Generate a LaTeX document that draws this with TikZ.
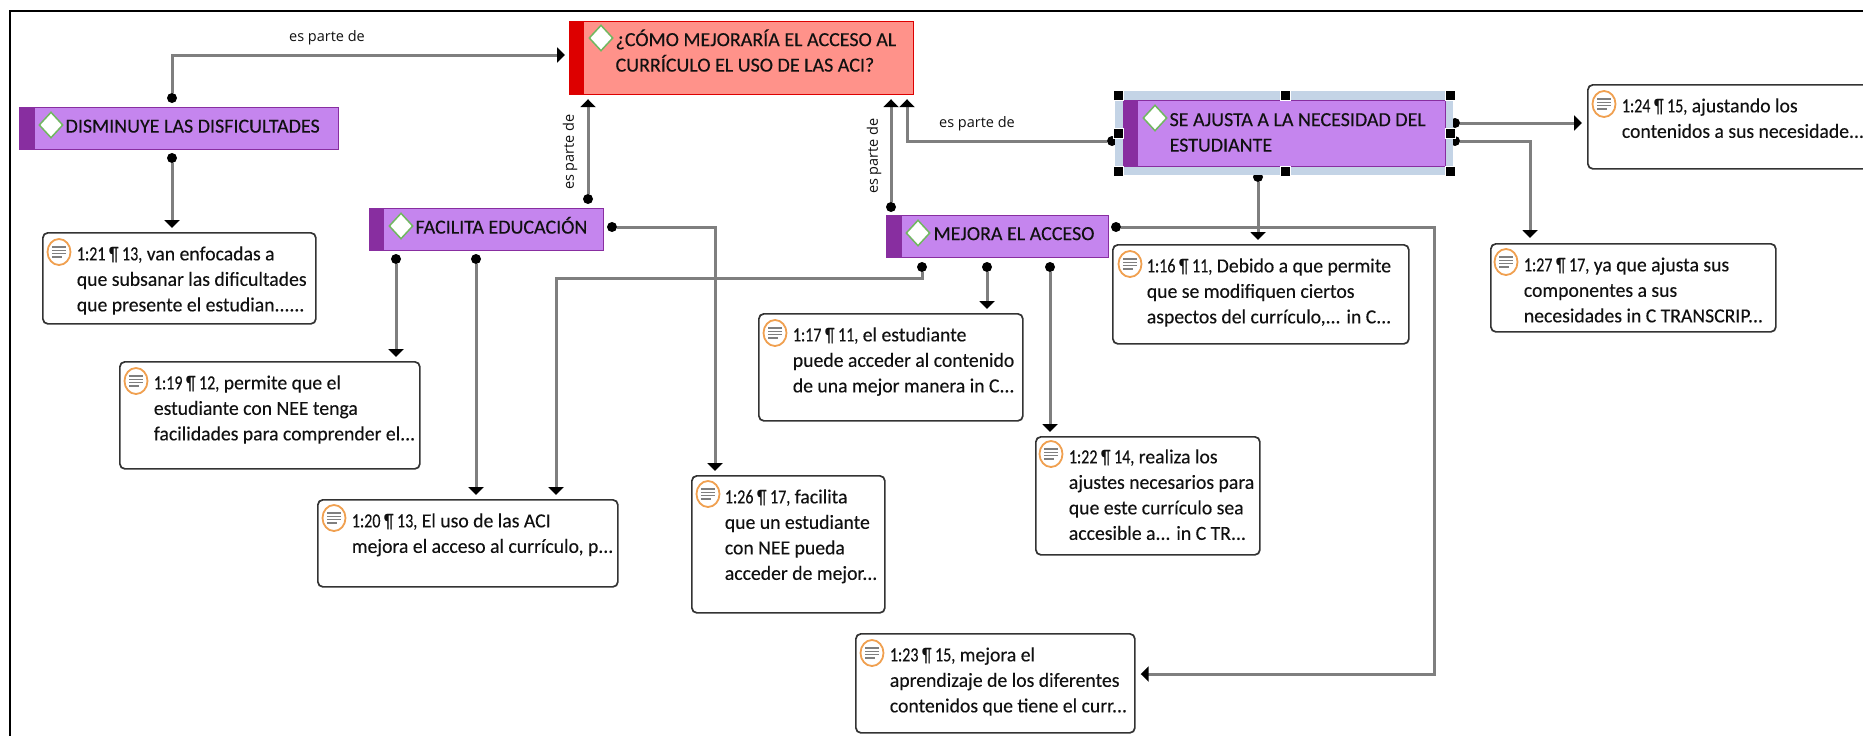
\documentclass[tikz,border=0pt]{standalone}
\usepackage{fontspec}
\usetikzlibrary{arrows.meta,shapes.geometric,calc}
\setmainfont[FakeBold=0.2]{Carlito}
\newfontfamily\qfont[FakeBold=0.2,FakeStretch=0.985]{Carlito}
\newfontfamily\pfxfont[FakeBold=0.2,FakeStretch=0.8]{Carlito}
\newfontfamily\lblfont{Open Sans}
\newcommand\pfx[1]{{\pfxfont #1}}
\definecolor{cfill}{HTML}{C585EE}
\definecolor{cbar}{HTML}{882EA0}
\definecolor{rfill}{HTML}{FF928A}
\definecolor{rbar}{HTML}{DD0000}
\definecolor{linegrey}{HTML}{7F7F7F}
\definecolor{txt}{HTML}{111111}
\definecolor{gemgreen}{HTML}{70B860}
\definecolor{iconorange}{HTML}{F0A050}
\definecolor{selblue}{HTML}{C4D4E6}
\tikzset{
  x=1pt,y=-1pt,
  boxtext/.style={anchor=north west,inner sep=0pt,text=txt,font=\fontsize{20}{26}\selectfont},
  quote/.style={boxtext,draw=black!80,fill=white,line width=1.7pt,rounded corners=5pt,font=\qfont\fontsize{20}{26}\selectfont},
  code/.style={boxtext,draw=cbar,fill=cfill,line width=1.2pt},
  root/.style={boxtext,draw=rbar,fill=rfill,line width=1.2pt},
  gem/.style={diamond,draw=gemgreen,fill=white,line width=1.5pt,inner sep=0pt,minimum width=24pt,minimum height=26pt},
  docicon/.style={ellipse,draw=iconorange,fill=white,line width=1.8pt,inner sep=0pt,minimum width=23pt,minimum height=26pt},
  conn/.style={draw=linegrey,line width=3pt,-{Triangle[length=8pt,width=15pt,color=black]}},
  dot/.style={circle,fill=black,inner sep=0pt,minimum size=10pt},
  lbl/.style={inner sep=0pt,text=txt,font=\lblfont\fontsize{14.5}{16}\selectfont},
  handle/.style={fill=black,draw=white,line width=1pt,minimum size=10pt,inner sep=0pt},
}
% #1 name, #2 style, #3-#6 box, #7 text offset, #8 first-line drop, #9 text
\newcommand\bx[9]{%
  \pgfmathsetmacro\bw{#5-#3}\pgfmathsetmacro\bh{#6-#4}%
  \node[#2] (#1) at (#3,#4) {\parbox[c][\bh pt][t]{\bw pt}{\raggedright\leftskip=#7pt\rightskip=-80pt plus 1fil\parindent=0pt\baselineskip=25.5pt\lineskiplimit=-50pt\rule{0pt}{#8pt}#9}};}
\newcommand\qicon[3]{%
  \node[docicon] (#1) at (#2,#3) {};
  \foreach \dy/\hw in {-5/7,-1.7/7,1.7/7,5/3}{\draw[linegrey,line width=1.3pt] ($(#1)+(-7,\dy)$) -- ($(#1)+(\hw,\dy)$);}
}
\begin{document}
\begin{tikzpicture}
\useasboundingbox (0,0) rectangle (1863,736);
\fill[white] (0,0) rectangle (1863,736);
\draw[black,line width=2pt] (10,736) -- (10,11) -- (1863,11);
% concept nodes
\bx{main}{root}{569}{21}{913}{94}{46}{24.5}{¿CÓMO MEJORARÍA EL ACCESO AL\\CURRÍCULO EL USO DE LAS ACI?}
\fill[rbar] (569,21) rectangle (584,94);
\node[gem] (mainG) at (601,38) {};
\bx{dis}{code}{19}{107}{338}{149}{46}{25}{DISMINUYE LAS DISFICULTADES}
\fill[cbar] (19,107) rectangle (35,149);
\node[gem] (disG) at (51,125) {};
\bx{fac}{code}{369}{208}{603}{250}{46}{25}{FACILITA EDUCACIÓN}
\fill[cbar] (369,208) rectangle (384,250);
\node[gem] (facG) at (401,226) {};
\bx{mej}{code}{886}{215}{1108}{257}{47}{24.5}{MEJORA EL ACCESO}
\fill[cbar] (886,215) rectangle (902,257);
\node[gem] (mejG) at (918,233) {};
% quotation nodes
\bx{q21}{quote}{42}{232}{315}{323}{34}{27.5}{\pfx{1:21 ¶ 13,} van enfocadas a\\que subsanar las dificultades\\que presente el estudian......}
\qicon{q21i}{59}{252}
\bx{q19}{quote}{119}{361}{419}{468}{34}{27.5}{\pfx{1:19 ¶ 12,} permite que el\\estudiante con NEE tenga\\facilidades para comprender el...}
\qicon{q19i}{136}{381}
\bx{q20}{quote}{317}{499}{617}{586}{34}{27.5}{\pfx{1:20 ¶ 13,} El uso de las ACI\\mejora el acceso al currículo, p...}
\qicon{q20i}{334}{518}
\bx{q26}{quote}{691}{475}{884}{612}{33}{27.5}{\pfx{1:26 ¶ 17,} facilita\\que un estudiante\\con NEE pueda\\acceder de mejor...}
\qicon{q26i}{708}{494}
\bx{q17}{quote}{758}{313}{1022}{420}{34}{27.5}{\pfx{1:17 ¶ 11,} el estudiante\\puede acceder al contenido\\de una mejor manera in C...}
\qicon{q17i}{775}{333}
\bx{q22}{quote}{1035}{436}{1259}{554}{33}{26.5}{\pfx{1:22 ¶ 14,} realiza los\\ajustes necesarios para\\que este currículo sea\\accesible a... in C TR...}
\qicon{q22i}{1051}{454}
\bx{q16}{quote}{1112}{244}{1408}{343}{34}{27.5}{\pfx{1:16 ¶ 11,} Debido a que permite\\que se modifiquen ciertos\\aspectos del currículo,... in C...}
\qicon{q16i}{1130}{264}
\bx{q23}{quote}{855}{633}{1134}{732}{34}{27.5}{\pfx{1:23 ¶ 15,} mejora el\\aprendizaje de los diferentes\\contenidos que tiene el curr...}
\qicon{q23i}{872}{653}
\bx{q27}{quote}{1490}{243}{1775}{331}{33}{27.5}{\pfx{1:27 ¶ 17,} ya que ajusta sus\\componentes a sus\\necesidades in C TRANSCRIP...}
\qicon{q27i}{1506}{262}
\bx{q24}{quote}{1587}{84}{1880}{168}{34}{27.5}{\pfx{1:24 ¶ 15,} ajustando los\\contenidos a sus necesidade...}
\qicon{q24i}{1604}{104}
% connectors
\node[dot] (d1) at (172,98) {};
\draw[conn] (d1) |- ([xshift=-4pt]main.west |- 0,55);
\node[lbl] (l1) at (327,37.5) {es parte de};
\node[dot] (d2) at (172,158) {};
\draw[conn] (d2) -- ([yshift=4pt]d2 |- q21.north);
\node[dot] (d3) at (588,199) {};
\draw[conn] (d3) -- ([yshift=-4pt]d3 |- main.south);
\node[lbl,rotate=90] (l2) at (570,152) {es parte de};
\node[dot] (d4) at (396,259) {};
\draw[conn] (d4) -- ([yshift=4pt]d4 |- q19.north);
\node[dot] (d5) at (476,259) {};
\draw[conn] (d5) -- ([yshift=4pt]d5 |- q20.north);
\node[dot] (d6) at (612,227) {};
\draw[conn] (d6) -| ([yshift=4pt]715,0 |- q26.north);
\node[dot] (d7) at (891,207) {};
\draw[conn] (d7) -- ([yshift=-4pt]d7 |- main.south);
\node[lbl,rotate=90] (l3) at (874,156) {es parte de};
\node[dot] (d8) at (1112,141) {};
\draw[conn] (d8) -| ([yshift=-4pt]907,0 |- main.south);
\node[lbl] (l4) at (977,123.5) {es parte de};
\node[dot] (d9) at (922,267) {};
\draw[conn] (d9) -- (922,278) -- (556,278) -- ([yshift=4pt]556,0 |- q20.north);
\node[dot] (d10) at (987,267) {};
\draw[conn] (d10) -- ([yshift=4pt]d10 |- q17.north);
\node[dot] (d11) at (1050,267) {};
\draw[conn] (d11) -- ([yshift=4pt]d11 |- q22.north);
\node[dot] (d12) at (1116,227) {};
\draw[conn] (d12) -- (1434,227) -- (1434,674) -- ([xshift=5pt]q23.east |- 0,674);
\node[dot] (d13) at (1258,177) {};
\draw[conn] (d13) -- ([yshift=4pt]d13 |- q16.north);
\node[dot] (d14) at (1455,123) {};
\draw[conn] (d14) -- ([xshift=-5pt]q24.west |- d14);
\node[dot] (d15) at (1455,141) {};
\draw[conn] (d15) -| ([yshift=5pt]1530,0 |- q27.north);
% selected node, over the ends of its connectors
\fill[selblue] (1115,91) rectangle (1453,175);
\bx{sea}{code}{1123}{100}{1445}{166}{46}{25.5}{SE AJUSTA A LA NECESIDAD DEL\\ESTUDIANTE}
\fill[cbar] (1123,100) rectangle (1138,166);
\node[gem] (seaG) at (1155,118) {};
\foreach \hx in {1118,1285,1450}{\foreach \hy in {95,171}{\node[handle] at (\hx,\hy) {};}}
\foreach \hx in {1118,1450}{\node[handle] at (\hx,133) {};}
\end{tikzpicture}
\end{document}
